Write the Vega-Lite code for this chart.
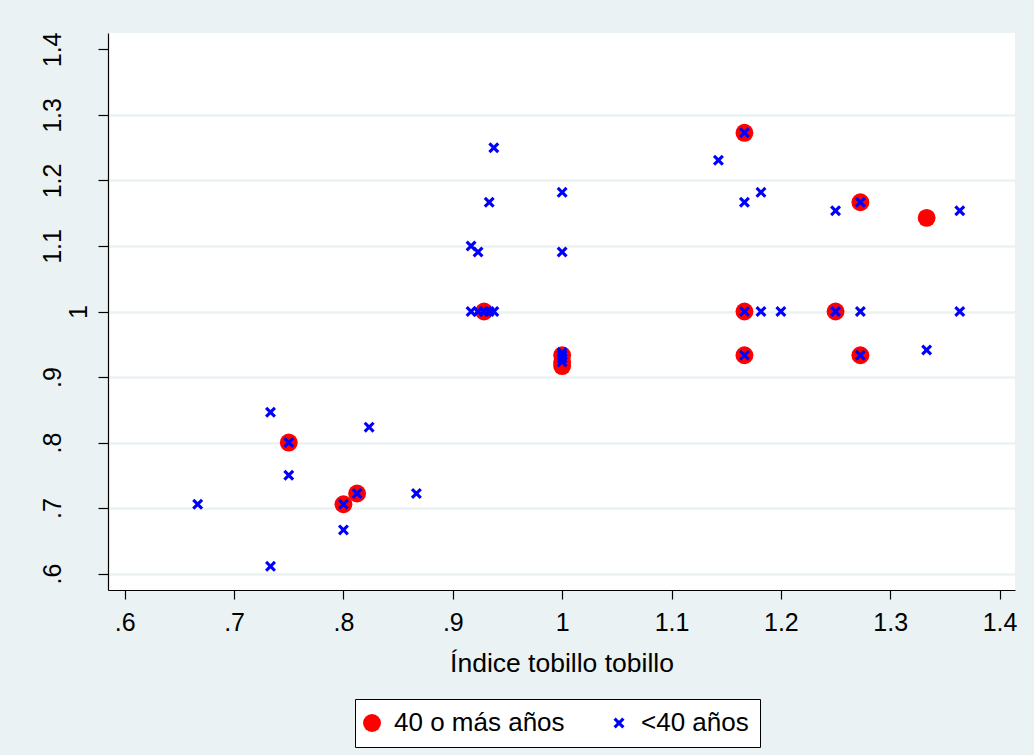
{
  "$schema": "https://vega.github.io/schema/vega-lite/v6.json",
  "width": 907,
  "height": 557,
  "autosize": {"type": "none"},
  "padding": {"left": 108, "top": 33, "right": 19, "bottom": 165},
  "background": "#eaf2f3",
  "config": {
    "font": "Liberation Sans",
    "view": {"fill": "white", "stroke": null},
    "axis": {"labelFont": "Liberation Sans", "titleFont": "Liberation Sans", "labelColor": "black", "titleColor": "black"},
    "legend": {
      "fillColor": "white", "strokeColor": "black", "strokeWidth": 1,
      "padding": 11, "labelFontSize": 26, "labelFont": "Liberation Sans", "labelColor": "black", "labelLimit": 500,
      "labelOffset": 9, "columnPadding": 48, "symbolOffset": -7, "symbolStrokeWidth": 0, "symbolOpacity": 1
    }
  },
  "data": {
    "values": [
      {"itt": 0.75, "y": 0.80, "edad": "40 o más años"},
      {"itt": 0.80, "y": 0.7059, "edad": "40 o más años"},
      {"itt": 0.8125, "y": 0.7222, "edad": "40 o más años"},
      {"itt": 0.9286, "y": 1.0, "edad": "40 o más años"},
      {"itt": 1.0, "y": 0.9333, "edad": "40 o más años"},
      {"itt": 1.0, "y": 0.9231, "edad": "40 o más años"},
      {"itt": 1.0, "y": 0.9167, "edad": "40 o más años"},
      {"itt": 1.1667, "y": 1.2727, "edad": "40 o más años"},
      {"itt": 1.1667, "y": 1.0, "edad": "40 o más años"},
      {"itt": 1.1667, "y": 0.9333, "edad": "40 o más años"},
      {"itt": 1.25, "y": 1.0, "edad": "40 o más años"},
      {"itt": 1.2727, "y": 1.1667, "edad": "40 o más años"},
      {"itt": 1.2727, "y": 0.9333, "edad": "40 o más años"},
      {"itt": 1.3333, "y": 1.1429, "edad": "40 o más años"},
      {"itt": 0.6667, "y": 0.7059, "edad": "<40 años"},
      {"itt": 0.7333, "y": 0.8462, "edad": "<40 años"},
      {"itt": 0.7333, "y": 0.6111, "edad": "<40 años"},
      {"itt": 0.75, "y": 0.80, "edad": "<40 años"},
      {"itt": 0.75, "y": 0.75, "edad": "<40 años"},
      {"itt": 0.80, "y": 0.7059, "edad": "<40 años"},
      {"itt": 0.80, "y": 0.6667, "edad": "<40 años"},
      {"itt": 0.8125, "y": 0.7222, "edad": "<40 años"},
      {"itt": 0.8235, "y": 0.8235, "edad": "<40 años"},
      {"itt": 0.8667, "y": 0.7222, "edad": "<40 años"},
      {"itt": 0.9167, "y": 1.1, "edad": "<40 años"},
      {"itt": 0.9231, "y": 1.0909, "edad": "<40 años"},
      {"itt": 0.9333, "y": 1.1667, "edad": "<40 años"},
      {"itt": 0.9375, "y": 1.25, "edad": "<40 años"},
      {"itt": 0.9167, "y": 1.0, "edad": "<40 años"},
      {"itt": 0.9231, "y": 1.0, "edad": "<40 años"},
      {"itt": 0.9286, "y": 1.0, "edad": "<40 años"},
      {"itt": 0.9333, "y": 1.0, "edad": "<40 años"},
      {"itt": 0.9375, "y": 1.0, "edad": "<40 años"},
      {"itt": 1.0, "y": 1.1818, "edad": "<40 años"},
      {"itt": 1.0, "y": 1.0909, "edad": "<40 años"},
      {"itt": 1.0, "y": 0.9375, "edad": "<40 años"},
      {"itt": 1.0, "y": 0.9333, "edad": "<40 años"},
      {"itt": 1.0, "y": 0.9286, "edad": "<40 años"},
      {"itt": 1.0, "y": 0.9231, "edad": "<40 años"},
      {"itt": 1.1429, "y": 1.2308, "edad": "<40 años"},
      {"itt": 1.1667, "y": 1.2727, "edad": "<40 años"},
      {"itt": 1.1667, "y": 1.1667, "edad": "<40 años"},
      {"itt": 1.1818, "y": 1.1818, "edad": "<40 años"},
      {"itt": 1.1667, "y": 1.0, "edad": "<40 años"},
      {"itt": 1.1818, "y": 1.0, "edad": "<40 años"},
      {"itt": 1.2, "y": 1.0, "edad": "<40 años"},
      {"itt": 1.1667, "y": 0.9333, "edad": "<40 años"},
      {"itt": 1.25, "y": 1.1538, "edad": "<40 años"},
      {"itt": 1.25, "y": 1.0, "edad": "<40 años"},
      {"itt": 1.2727, "y": 1.1667, "edad": "<40 años"},
      {"itt": 1.2727, "y": 1.0, "edad": "<40 años"},
      {"itt": 1.2727, "y": 0.9333, "edad": "<40 años"},
      {"itt": 1.3333, "y": 0.9412, "edad": "<40 años"},
      {"itt": 1.3636, "y": 1.1538, "edad": "<40 años"},
      {"itt": 1.3636, "y": 1.0, "edad": "<40 años"}
    ]
  },
  "mark": {"type": "point", "filled": true, "opacity": 1, "strokeWidth": 0},
  "encoding": {
    "x": {
      "field": "itt", "type": "quantitative",
      "scale": {"domain": [0.5847, 1.4141], "nice": false, "zero": false},
      "axis": {
        "title": "Índice tobillo tobillo",
        "titleFontSize": 26.5, "titleFontWeight": "normal", "titlePadding": 15,
        "values": [0.6, 0.7, 0.8, 0.9, 1.0, 1.1, 1.2, 1.3, 1.4],
        "format": ".1~f",
        "labelExpr": "datum.value < 1 ? substring(datum.label, 1) : datum.label",
        "labelFontSize": 25, "labelPadding": 11,
        "domainColor": "black", "domainWidth": 1.2,
        "tickColor": "black", "tickSize": 9, "tickWidth": 1.2,
        "grid": false, "labelFlush": false
      }
    },
    "y": {
      "field": "y", "type": "quantitative",
      "scale": {"domain": [0.575, 1.425], "nice": false, "zero": false},
      "axis": {
        "title": null,
        "values": [0.6, 0.7, 0.8, 0.9, 1.0, 1.1, 1.2, 1.3, 1.4],
        "format": ".1~f",
        "labelExpr": "datum.value < 1 ? substring(datum.label, 1) : datum.label",
        "labelFontSize": 25, "labelAngle": 270, "labelAlign": "center", "labelBaseline": "alphabetic",
        "labelPadding": {"condition": {"test": "datum.value == 1", "value": 12}, "value": 38},
        "domainColor": "black", "domainWidth": 1.2,
        "tickColor": "black", "tickSize": 10, "tickWidth": 1.2,
        "grid": true,
        "gridColor": {"condition": {"test": "datum.value > 1.35", "value": "transparent"}, "value": "#eaf2f3"},
        "gridWidth": 2.5, "labelFlush": false
      }
    },
    "color": {
      "field": "edad", "type": "nominal",
      "scale": {"domain": ["40 o más años", "<40 años"], "range": ["#ff0000", "#0000ff"]},
      "legend": {"title": null, "orient": "none", "direction": "horizontal", "legendX": 247, "legendY": 666}
    },
    "shape": {
      "field": "edad", "type": "nominal",
      "scale": {"domain": ["40 o más años", "<40 años"], "range": ["circle", "M0,-0.4L0.6,-1L1,-0.6L0.4,0L1,0.6L0.6,1L0,0.4L-0.6,1L-1,0.6L-0.4,0L-1,-0.6L-0.6,-1Z"]},
      "legend": {"title": null, "orient": "none", "direction": "horizontal", "legendX": 247, "legendY": 666}
    },
    "size": {
      "field": "edad", "type": "nominal",
      "scale": {"domain": ["40 o más años", "<40 años"], "range": [320, 121]},
      "legend": {"title": null, "orient": "none", "direction": "horizontal", "legendX": 247, "legendY": 666}
    }
  }
}
